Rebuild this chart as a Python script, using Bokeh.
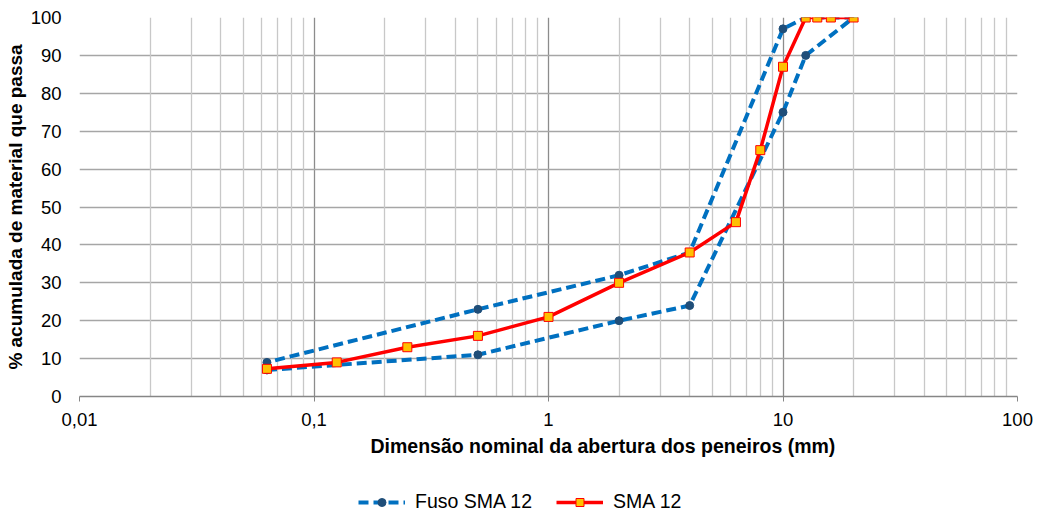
from bokeh.plotting import figure
from bokeh.layouts import column
from bokeh.models import (FixedTicker, Legend, LegendItem, Grid, Range1d, ColumnDataSource, Title)
from bokeh.embed import file_html
from bokeh.resources import INLINE

# Data
fuso_x = [0.063, 0.5, 2, 4, 10, 12.5, 20, 12.5, 10, 4, 2, 0.5, 0.063]
fuso_y = [7, 11, 20, 24, 75, 90, 100, 100, 97, 38, 32, 23, 9]
sma_x = [0.063, 0.125, 0.25, 0.5, 1, 2, 4, 6.3, 8, 10, 12.5, 14, 16, 20]
sma_y = [7.3, 9, 13, 16, 21, 30, 38, 46, 65, 87, 100, 100, 100, 100]
x_ticks = [0.01, 0.1, 1, 10, 100]
x_tick_labels = ["0,01", "0,1", "1", "10", "100"]
y_ticks = list(range(0, 101, 10))
x_title = "Dimensão nominal da abertura dos peneiros (mm)"
y_title = "% acumulada de material que passa"

FONT = "Liberation Sans"

p = figure(width=1040, height=473, x_axis_type="log", output_backend="svg",
           toolbar_location=None, x_range=Range1d(0.01, 100), y_range=Range1d(0, 100),
           min_border_left=79, min_border_right=23, min_border_top=17, min_border_bottom=77)
p.outline_line_color = None
p.background_fill_color = "white"

# grids
p.xgrid.ticker = FixedTicker(ticks=x_ticks)
p.xgrid.grid_line_color = "#8C8C8C"
p.xgrid.grid_line_width = 1.3
p.ygrid.ticker = FixedTicker(ticks=y_ticks)
p.ygrid.grid_line_color = "#A6A6A6"
p.ygrid.grid_line_width = 1.3
minor_pos = [m * 10.0 ** e for e in range(-2, 2) for m in range(2, 10)]
mg = Grid(dimension=0, ticker=FixedTicker(ticks=minor_pos), grid_line_color="#C8C8C8",
          grid_line_width=1.3, level="underlay")
p.add_layout(mg)

# axes
p.xaxis.ticker = FixedTicker(ticks=x_ticks)
p.xaxis.major_label_overrides = {t: l for t, l in zip(x_ticks, x_tick_labels)}
p.xaxis.minor_tick_line_color = None
p.xaxis.major_tick_line_color = "#868686"
p.xaxis.major_tick_in = 0
p.xaxis.major_tick_out = 5
p.xaxis.axis_line_color = "#868686"
p.xaxis.axis_line_width = 1.3
p.xaxis.major_label_text_font = FONT
p.xaxis.major_label_text_font_size = "18.5px"
p.xaxis.major_label_text_color = "black"
p.xaxis.major_label_standoff = 11

p.yaxis.ticker = FixedTicker(ticks=y_ticks)
p.yaxis.minor_tick_line_color = None
p.yaxis.major_tick_line_color = None
p.yaxis.axis_line_color = None
p.yaxis.major_label_text_font = FONT
p.yaxis.major_label_text_font_size = "18.5px"
p.yaxis.major_label_text_color = "black"
p.yaxis.major_label_standoff = 12
p.yaxis.axis_label = y_title
p.yaxis.axis_label_text_font = FONT
p.yaxis.axis_label_text_font_style = "bold"
p.yaxis.axis_label_text_font_size = "19px"
p.yaxis.axis_label_text_color = "black"
p.yaxis.axis_label_standoff = 2

xt = Title(text=x_title, align="left", offset=291, standoff=9,
           text_font=FONT, text_font_style="bold", text_font_size="19.5px", text_color="black")
p.add_layout(xt, "below")

fsrc = ColumnDataSource(dict(x=fuso_x, y=fuso_y))
ssrc = ColumnDataSource(dict(x=sma_x, y=sma_y))

style_f_line = dict(line_color="#0070C0", line_width=4, line_dash="10 5")
style_f_mark = dict(marker="circle", size=8, fill_color="#1F4E79", line_color="#1F4E79")
style_s_line = dict(line_color="#FF0000", line_width=3.5)
style_s_mark = dict(marker="square", size=9, fill_color="#FFC000", line_color="#FF0000", line_width=1)

p.line("x", "y", source=fsrc, **style_f_line)
p.scatter("x", "y", source=fsrc, **style_f_mark)
p.line("x", "y", source=ssrc, **style_s_line)
p.scatter("x", "y", source=ssrc, **style_s_mark)

# legend strip below the chart (helper renderers sit outside its visible range)
lg = figure(width=1040, height=40, output_backend="svg", toolbar_location=None,
            x_range=Range1d(0, 1), y_range=Range1d(0, 1),
            min_border_left=0, min_border_right=0, min_border_top=0, min_border_bottom=0)
lg.axis.visible = False
lg.grid.visible = False
lg.outline_line_color = None
helper = ColumnDataSource(dict(x=[5, 6], y=[5, 6]))
fl = lg.line("x", "y", source=helper, **style_f_line)
fm = lg.scatter("x", "y", source=helper, **style_f_mark)
sl = lg.line("x", "y", source=helper, **style_s_line)
sm = lg.scatter("x", "y", source=helper, **style_s_mark)

legend = Legend(items=[LegendItem(label="Fuso SMA 12", renderers=[fl, fm]),
                       LegendItem(label="SMA 12", renderers=[sl, sm])],
                orientation="horizontal", location=(279, 0),
                label_text_font=FONT, label_text_font_size="19.5px", label_text_color="black",
                border_line_color=None, background_fill_alpha=0,
                glyph_width=47, spacing=24, padding=3, margin=0, label_standoff=10)
lg.add_layout(legend, "center")

open("out.html", "w").write(file_html(column(p, lg, spacing=0), INLINE))
